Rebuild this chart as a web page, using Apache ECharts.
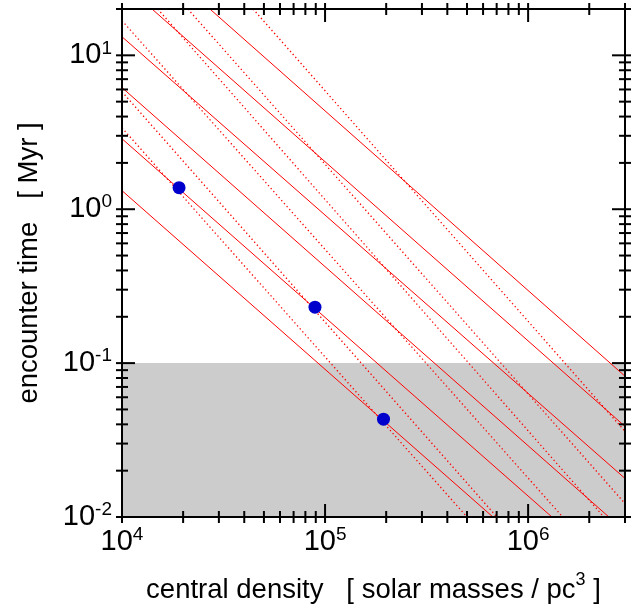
<!DOCTYPE html>
<html>
<head>
<meta charset="utf-8">
<script src="https://cdn.jsdelivr.net/npm/echarts@6/dist/echarts.min.js"></script>
<style>
html,body{margin:0;padding:0;background:#fff;}
#chart{width:640px;height:608px;}
</style>
</head>
<body>
<div id="chart"></div>
<script>
// ---- data ----
const X_MIN = 1e4, X_MAX = 3e6;
const Y_MIN = 0.01, Y_MAX = 20;

// solid model lines: start / end points (density, time)
const solidX1 = [1e4, 1e4, 1e4, 1e4, 1.405e4, 2.71e4];
const solidY1 = [13.2, 6.17, 2.87, 1.32, 20, 20];
const solidX2 = [3e6, 2.50e6, 1.31e6, 6.71e5, 3e6, 3e6];
const solidY2 = [0.0178, 0.01, 0.01, 0.01, 0.0388, 0.0822];

// dotted model lines
const dottedX1 = [1e4, 1e4, 1e4, 1.50e4, 2.11e4, 4.42e4];
const dottedY1 = [16.8, 5.80, 3.38, 20, 20, 20];
const dottedX2 = [1.48e6, 7.02e5, 5.0e5, 2.36e6, 3e6, 3e6];
const dottedY2 = [0.01, 0.01, 0.01, 0.01, 0.01224, 0.0360];

// clusters (blue points)
const clusterDensity = [1.91e4, 8.92e4, 1.94e5];
const clusterTime = [1.38, 0.231, 0.0432];

// shaded band
const shadeLow = 0.01, shadeHigh = 0.1;

// ticks
const xMajorTicks = [1e4, 1e5, 1e6];
const xMinorTicks = [2e4,3e4,4e4,5e4,6e4,7e4,8e4,9e4,2e5,3e5,4e5,5e5,6e5,7e5,8e5,9e5,2e6,3e6];
const yMajorTicks = [0.01, 0.1, 1, 10];
const yMinorTicks = [0.02,0.03,0.04,0.05,0.06,0.07,0.08,0.09,0.2,0.3,0.4,0.5,0.6,0.7,0.8,0.9,2,3,4,5,6,7,8,9,20];

const xTitle = 'central density   [ solar masses / pc{sup|3} ]';
const yTitle = 'encounter time   [ Myr ]';

// ---- chart ----
const FONT = 'Liberation Sans';
const RED = '#ff0000';

function powLabel(v) {
  const l = Math.log10(v);
  const e = Math.round(l);
  if (Math.abs(l - e) > 1e-6) return '';
  return '{b|10}{s|' + e + '}';
}
const labelRich = {
  b: {fontSize: 29, lineHeight: 33, fontFamily: FONT, color: '#000'},
  s: {fontSize: 19, fontFamily: FONT, color: '#000', verticalAlign: 'top'}
};

const series = [];
// background band (carried by an empty line series)
series.push({
  type: 'line', data: [], silent: true, z: 1,
  markArea: {
    silent: true,
    itemStyle: {color: '#cccccc'},
    data: [[{yAxis: shadeLow}, {yAxis: shadeHigh}]]
  }
});
for (let i = 0; i < solidX1.length; i++) {
  series.push({
    type: 'line', symbol: 'none', silent: true, z: 3,
    lineStyle: {color: RED, width: 1},
    data: [[solidX1[i], solidY1[i]], [solidX2[i], solidY2[i]]]
  });
}
for (let i = 0; i < dottedX1.length; i++) {
  series.push({
    type: 'line', symbol: 'none', silent: true, z: 3,
    lineStyle: {color: RED, width: 1.3, type: [1.3, 2.7]},
    data: [[dottedX1[i], dottedY1[i]], [dottedX2[i], dottedY2[i]]]
  });
}
series.push({
  type: 'scatter', z: 5, symbol: 'circle', symbolSize: 13,
  itemStyle: {color: '#0000cc', opacity: 1},
  data: clusterDensity.map((d, i) => [d, clusterTime[i]])
});

// frame + ticks drawn through the axis scales
const tickData = [];
xMajorTicks.forEach(v => tickData.push([v, Y_MIN, 1, 0]));
xMinorTicks.forEach(v => tickData.push([v, Y_MIN, 0, 0]));
yMajorTicks.forEach(v => tickData.push([X_MIN, v, 1, 1]));
yMinorTicks.forEach(v => tickData.push([X_MIN, v, 0, 1]));

series.push({
  type: 'custom', z: 10, clip: false, silent: true,
  data: [[X_MIN, Y_MIN]],
  renderItem: function (params, api) {
    const a = api.coord([X_MIN, Y_MAX]);
    const b = api.coord([X_MAX, Y_MIN]);
    return {
      type: 'rect',
      shape: {x: a[0], y: a[1], width: b[0] - a[0], height: b[1] - a[1]},
      style: {fill: null, stroke: '#000', lineWidth: 2}
    };
  }
});
series.push({
  type: 'custom', z: 10, clip: false, silent: true,
  data: tickData,
  renderItem: function (params, api) {
    const v0 = api.value(0), v1 = api.value(1);
    const major = api.value(2), isY = api.value(3);
    const outL = 6, inL = major ? 13 : 6;
    const st = {stroke: '#000', lineWidth: 2};
    if (!isY) {
      const pb = api.coord([v0, Y_MIN]);
      const pt = api.coord([v0, Y_MAX]);
      return {type: 'group', children: [
        {type: 'line', shape: {x1: pb[0], y1: pb[1] + outL, x2: pb[0], y2: pb[1] - inL}, style: st},
        {type: 'line', shape: {x1: pt[0], y1: pt[1] - outL, x2: pt[0], y2: pt[1] + inL}, style: st}
      ]};
    } else {
      const pl = api.coord([X_MIN, v1]);
      const pr = api.coord([X_MAX, v1]);
      return {type: 'group', children: [
        {type: 'line', shape: {x1: pl[0] - outL, y1: pl[1], x2: pl[0] + inL, y2: pl[1]}, style: st},
        {type: 'line', shape: {x1: pr[0] + outL, y1: pr[1], x2: pr[0] - inL, y2: pr[1]}, style: st}
      ]};
    }
  }
});

const chart = echarts.init(document.getElementById('chart'), null, {renderer: 'canvas'});
chart.setOption({
  animation: false,
  backgroundColor: '#fff',
  grid: {left: 122, right: 15, top: 9, bottom: 91, containLabel: false, outerBoundsMode: 'none'},
  xAxis: {
    type: 'log', logBase: 10, min: X_MIN, max: X_MAX,
    axisLine: {show: false}, axisTick: {show: false}, splitLine: {show: false},
    axisLabel: {margin: 8, formatter: powLabel, rich: labelRich},
    name: xTitle, nameLocation: 'middle', nameGap: 54,
    nameTextStyle: {fontSize: 27.5, lineHeight: 38, fontFamily: FONT, color: '#000',
      rich: {sup: {fontSize: 18, fontFamily: FONT, color: '#000', verticalAlign: 'top'}}}
  },
  yAxis: {
    type: 'log', logBase: 10, min: Y_MIN, max: Y_MAX,
    axisLine: {show: false}, axisTick: {show: false}, splitLine: {show: false},
    axisLabel: {margin: 10, formatter: powLabel, rich: labelRich},
    name: yTitle, nameLocation: 'middle', nameGap: 79, nameRotate: 90,
    nameTextStyle: {fontSize: 27.5, fontFamily: FONT, color: '#000'}
  },
  series: series
});
</script>
</body>
</html>
